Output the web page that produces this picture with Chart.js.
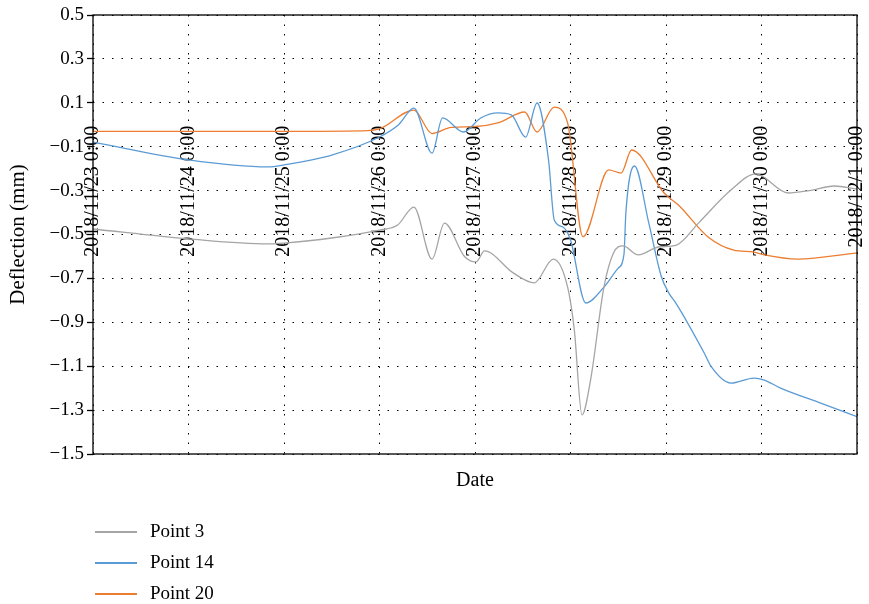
<!DOCTYPE html>
<html>
<head>
<meta charset="utf-8">
<script src="https://cdn.jsdelivr.net/npm/chart.js@4.4.1/dist/chart.umd.min.js"></script>
<style>
  html, body { margin: 0; padding: 0; background: #fff; }
  #wrap { width: 869px; height: 604px; }
</style>
</head>
<body>
<div id="wrap"><canvas id="chart" width="869" height="604"></canvas></div>
<script>
// x tick labels, one per day (x value = days since 2018/11/23 0:00)
const xTickLabels = [
  '2018/11/23 0:00', '2018/11/24 0:00', '2018/11/25 0:00', '2018/11/26 0:00',
  '2018/11/27 0:00', '2018/11/28 0:00', '2018/11/29 0:00', '2018/11/30 0:00',
  '2018/12/1 0:00'
];

// Point 3
const p3Days = [0, 1, 1.83, 2, 2.5, 3, 3.19, 3.36, 3.55, 3.68, 3.89, 4.01, 4.1, 4.4, 4.62, 4.82,
  4.97, 5.04, 5.12, 5.21, 5.35, 5.45, 5.55, 5.71, 5.92, 6.11, 6.34, 6.68, 6.94, 7.28, 7.5, 7.76, 8];
const p3Values = [-0.475, -0.52, -0.543, -0.539, -0.516, -0.48, -0.457, -0.375, -0.612, -0.448, -0.6, -0.625, -0.575, -0.675, -0.72, -0.612,
  -0.74, -0.935, -1.322, -1.163, -0.74, -0.584, -0.552, -0.593, -0.557, -0.548, -0.448, -0.297, -0.224, -0.311, -0.3, -0.279, -0.293];

// Point 14
const p14Days = [0, 1, 1.83, 2, 2.5, 3, 3.2, 3.36, 3.55, 3.66, 3.88, 4.06, 4.24, 4.38, 4.53, 4.65,
  4.77, 4.83, 4.92, 5, 5.16, 5.35, 5.5, 5.56, 5.58, 5.67, 5.82, 5.95, 6.03, 6.1, 6.4, 6.47, 6.68, 6.92, 7.03, 7.2, 7.62, 8];
const p14Values = [-0.079, -0.16, -0.192, -0.183, -0.138, -0.056, 0.0, 0.076, -0.129, 0.031, -0.033, 0.031, 0.054, 0.045, -0.056, 0.099,
  -0.16, -0.434, -0.466, -0.525, -0.812, -0.74, -0.653, -0.59, -0.4, -0.188, -0.448, -0.69, -0.767, -0.81, -1.04, -1.1, -1.177, -1.154, -1.163, -1.2, -1.268, -1.33];

// Point 20
const p20Days = [0, 1, 2, 2.8, 3, 3.36, 3.55, 3.75, 4, 4.25, 4.52, 4.65, 4.83, 4.97, 5.13,
  5.4, 5.53, 5.64, 5.98, 6.13, 6.44, 6.71, 6.92, 7.03, 7.38, 8];
const p20Values = [-0.03, -0.03, -0.03, -0.028, -0.019, 0.067, -0.04, -0.012, -0.008, 0.01, 0.058, -0.033, 0.08, 0.008, -0.51,
  -0.206, -0.22, -0.115, -0.311, -0.366, -0.511, -0.571, -0.58, -0.593, -0.612, -0.584];

const seriesNames = ['Point 3', 'Point 14', 'Point 20'];
const seriesColors = ['#A5A5A5', '#5B9BD5', '#ED7D31'];

const toPoints = (days, vals) => days.map((d, i) => ({ x: d, y: vals[i] }));

const serif = "'Liberation Serif', 'Times New Roman', serif";

// plot frame
const framePlugin = {
  id: 'frame',
  afterDatasetsDraw(chart) {
    const { ctx, chartArea } = chart;
    ctx.save();
    ctx.strokeStyle = '#000';
    ctx.lineWidth = 1.3;
    ctx.strokeRect(chartArea.left, chartArea.top, chartArea.right - chartArea.left, chartArea.bottom - chartArea.top);
    ctx.restore();
  }
};

// stacked legend under the chart
const legendPlugin = {
  id: 'stackLegend',
  afterDraw(chart) {
    const { ctx } = chart;
    ctx.save();
    ctx.font = '19px ' + serif;
    ctx.textBaseline = 'middle';
    chart.data.datasets.forEach((ds, i) => {
      const y = 532 + i * 31;
      ctx.strokeStyle = ds.borderColor;
      ctx.lineWidth = 2;
      ctx.beginPath();
      ctx.moveTo(95, y);
      ctx.lineTo(137, y);
      ctx.stroke();
      ctx.fillStyle = '#000';
      ctx.fillText(ds.label, 150, y);
    });
    ctx.restore();
  }
};

const ctx = document.getElementById('chart').getContext('2d');
new Chart(ctx, {
  type: 'line',
  data: {
    datasets: [
      { label: seriesNames[0], data: toPoints(p3Days, p3Values) },
      { label: seriesNames[1], data: toPoints(p14Days, p14Values) },
      { label: seriesNames[2], data: toPoints(p20Days, p20Values) }
    ].map((ds, i) => ({
      ...ds,
      borderColor: seriesColors[i],
      backgroundColor: seriesColors[i],
      borderWidth: 1.3,
      pointRadius: 0,
      fill: false,
      cubicInterpolationMode: 'monotone'
    }))
  },
  options: {
    responsive: false,
    animation: false,
    events: [],
    layout: { padding: { left: 0, top: 15, right: 12, bottom: 107 } },
    plugins: {
      legend: { display: false },
      tooltip: { enabled: false }
    },
    scales: {
      x: {
        type: 'linear',
        position: { y: 0 },
        min: 0,
        max: 8,
        border: { display: false, dash: [1.5, 8] },
        grid: {
          color: '#000',
          lineWidth: 1,
          drawTicks: false
        },
        ticks: {
          stepSize: 1,
          autoSkip: false,
          minRotation: 90,
          maxRotation: 90,
          padding: 1,
          color: '#000',
          font: { family: serif, size: 20 },
          callback: (v) => xTickLabels[v]
        },
        afterFit: (scale) => { scale.paddingLeft = 0; scale.paddingRight = 0; }
      },
      x2: {
        type: 'linear',
        position: 'bottom',
        min: 0,
        max: 8,
        border: { display: false },
        grid: { display: false, drawTicks: false },
        ticks: { display: false },
        title: {
          display: true,
          text: 'Date',
          color: '#000',
          font: { family: serif, size: 20 },
          padding: { top: 4, bottom: 4 }
        },
        afterFit: (scale) => { scale.height = 43; scale.paddingLeft = 0; scale.paddingRight = 0; }
      },
      y: {
        min: -1.5,
        max: 0.5,
        border: { display: false, dash: [1.5, 8] },
        grid: {
          color: '#000',
          lineWidth: 1,
          tickBorderDash: [],
          tickLength: 6,
          tickWidth: 1.3
        },
        ticks: {
          stepSize: 0.2,
          padding: 3,
          color: '#000',
          font: { family: serif, size: 19 },
          callback: (v) => v.toFixed(1).replace('-', '\u2212')
        },
        title: {
          display: true,
          text: 'Deflection (mm)',
          color: '#000',
          font: { family: serif, size: 21 },
          padding: { top: 6, bottom: 4 }
        },
        afterFit: (scale) => { scale.width = 93; }
      }
    }
  },
  plugins: [framePlugin, legendPlugin]
});
</script>
</body>
</html>
